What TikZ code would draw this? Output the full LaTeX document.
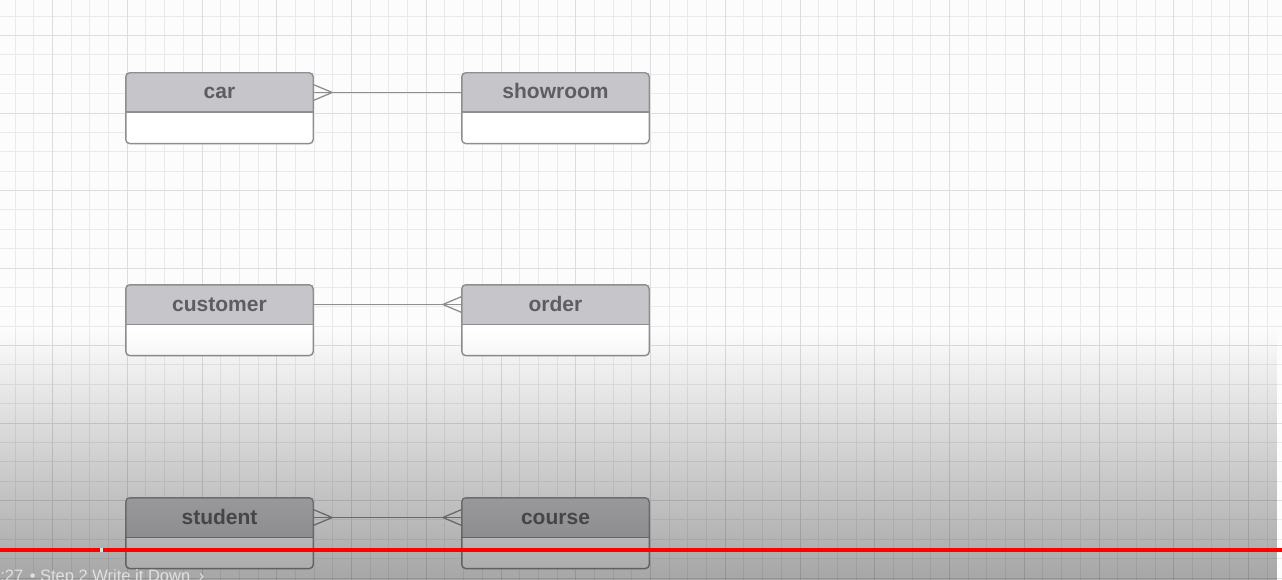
\documentclass[tikz,border=0pt]{standalone}
\usepackage{fontspec}
\setmainfont{Liberation Sans}
\usetikzlibrary{positioning}
\usetikzlibrary{calc}
\usetikzlibrary{fadings}

\definecolor{paper}{HTML}{FCFCFC}
\definecolor{gridminor}{HTML}{EAEAED}
\definecolor{gridmajor}{HTML}{DDDDE1}
\definecolor{headgray}{HTML}{C6C5C9}
\definecolor{headtext}{HTML}{5E5E62}
\definecolor{entline}{HTML}{8E8E8E}
\definecolor{ytred}{HTML}{FF0000}

\tikzfading[name=playershade, top color=transparent!100, middle color=transparent!86, bottom color=transparent!66]

\tikzset{
  enthead/.style={fill=headgray, minimum width=187pt, minimum height=39pt, inner sep=0pt,
    text height=16pt, text depth=3pt, text=headtext, font=\fontsize{21}{24}\selectfont\bfseries},
  entbody/.style={fill=white, minimum width=187pt, minimum height=31pt, inner sep=0pt},
  entframe/.style={draw=entline, line width=1.4pt, rounded corners=4pt},
  link/.style={draw=entline, line width=1.3pt},
}

\begin{document}
\begin{tikzpicture}[x=1pt,y=-1pt]
\useasboundingbox (0,0) rectangle (1282,580);
\fill[paper] (0,0) rectangle (1282,580);

% grid paper
\foreach \i in {0,...,70}
  \draw[gridminor, line width=1pt] ({round(-22.75+18.6875*\i)+0.5},0) -- ++(0,580);
\foreach \j in {0,...,30}
  \draw[gridminor, line width=1pt] (0,{round(-3.75+19.375*\j)+0.5}) -- ++(1282,0);
\foreach \i in {0,...,17}
  \draw[gridmajor, line width=1pt] ({round(-22.75+74.75*\i)+0.5},0) -- ++(0,580);
\foreach \j in {0,...,7}
  \draw[gridmajor, line width=1pt] (0,{round(35+77.5*\j)+0.5}) -- ++(1282,0);

% entities
\node[enthead] (car) at (219.5, 92.5) {car};
\node[entbody, below=0pt of car] (car-b) {};
\node[enthead] (showroom) at (555.5, 92.5) {showroom};
\node[entbody, below=0pt of showroom] (showroom-b) {};

\node[enthead] (customer) at (219.5, 304.5) {customer};
\node[entbody, below=0pt of customer] (customer-b) {};
\node[enthead] (order) at (555.5, 304.5) {order};
\node[entbody, below=0pt of order] (order-b) {};

\node[enthead] (student) at (219.5, 517.5) {student};
\node[entbody, below=0pt of student] (student-b) {};
\node[enthead] (course) at (555.5, 517.5) {course};
\node[entbody, below=0pt of course] (course-b) {};

% relations, crow's foot on the many side
\draw[link] (car.east) -- (showroom.west);
\draw[link] ($(car.east)+(0,-8)$) -- ($(car.east)+(19,0)$) -- ($(car.east)+(0,8)$);

\draw[link] (customer.east) -- (order.west);
\draw[link] ($(order.west)+(0,-8)$) -- ($(order.west)+(-19,0)$) -- ($(order.west)+(0,8)$);

\draw[link] (student.east) -- (course.west);
\draw[link] ($(student.east)+(0,-8)$) -- ($(student.east)+(19,0)$) -- ($(student.east)+(0,8)$);
\draw[link] ($(course.west)+(0,-8)$) -- ($(course.west)+(-19,0)$) -- ($(course.west)+(0,8)$);

\foreach \e in {car,showroom,customer,order,student,course} {
  \draw[entframe] (\e.north west) rectangle (\e-b.south east);
  \draw[entline, line width=1.4pt] (\e.south west) -- (\e.south east);
}

% player shading and progress bar
\fill[black, path fading=playershade] (0,330) rectangle (1282,580);
\coordinate (barL) at (0,550);
\coordinate (barR) at (1282,550);
\draw[ytred, line width=3.4pt] (barL) -- (barR);
\fill[white!75!gray] (100,548.3) rectangle (102.5,551.7);

\node[anchor=base west, inner sep=0pt, text=white!88!black, font=\fontsize{16.5}{19}\selectfont] (caption)
  at (-9,581.5) {0:27\hspace{6.5pt}•\ Step 2 Write it Down\hspace{4pt} ›};
\end{tikzpicture}
\end{document}
